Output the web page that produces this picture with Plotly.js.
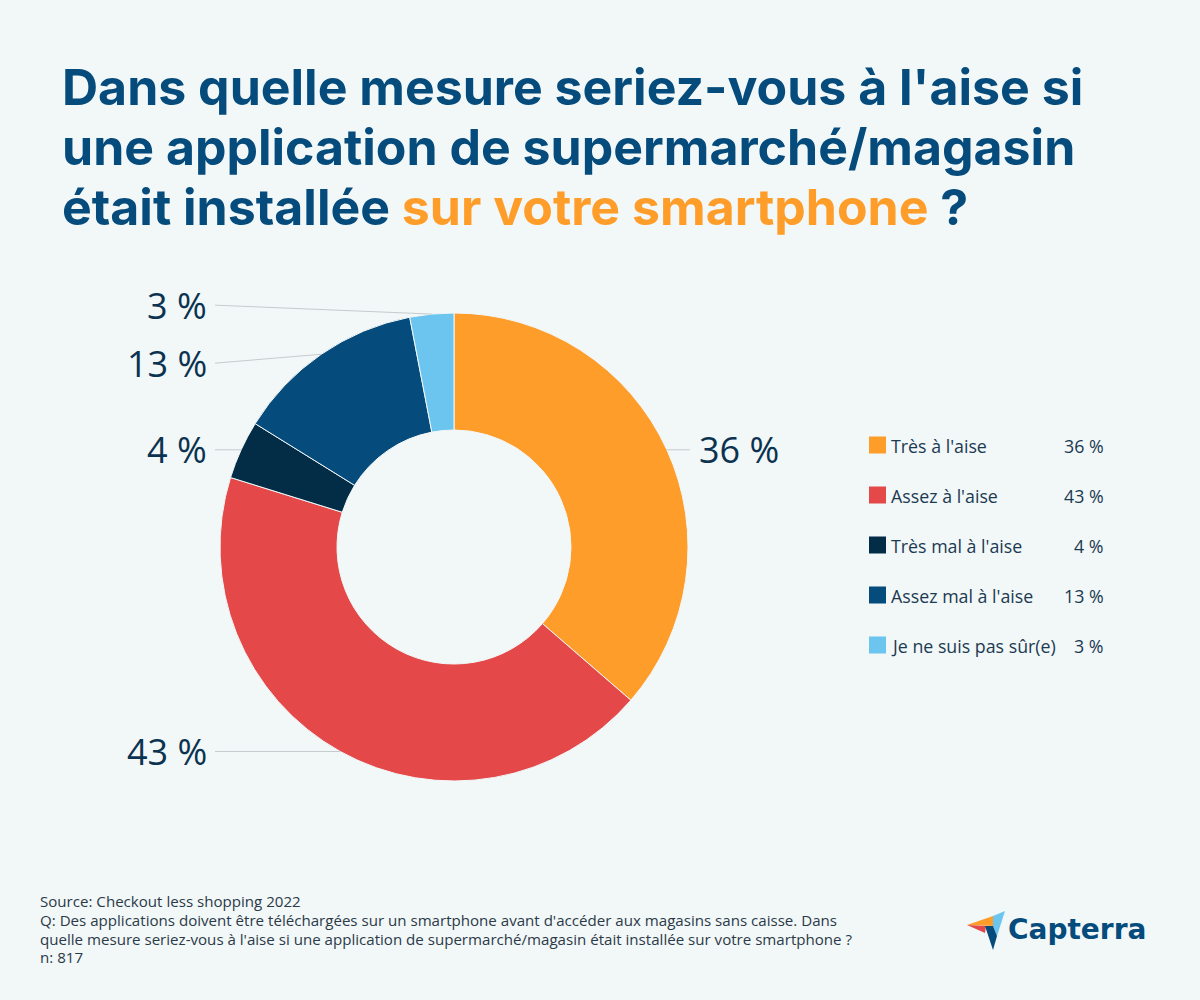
<!DOCTYPE html>
<html>
<head>
<meta charset="utf-8">
<script src="https://cdn.plot.ly/plotly-3.0.1.min.js"></script>
<style>
  html, body { margin: 0; padding: 0; background: #F2F7F8; }
  #chart { width: 1200px; height: 1000px; }
</style>
</head>
<body>
<div id="chart"></div>
<script>
// ---- Data ----
const categories = ["Très à l'aise", "Assez à l'aise", "Très mal à l'aise", "Assez mal à l'aise", "Je ne suis pas sûr(e)"];
const values = [36, 43, 4, 13, 3];
const colors = ["#FF9D2B", "#E44848", "#032D47", "#054B7C", "#6CC5EE"];
const pctLabels = values.map(v => v + " %");
const titleLines = [
  "Dans quelle mesure seriez-vous à l'aise si",
  "une application de supermarché/magasin",
  "était installée <span style='color:#FF9D2B'>sur votre smartphone</span> ?"
];
const footerLines = [
  "Source: Checkout less shopping 2022",
  "Q: Des applications doivent être téléchargées sur un smartphone avant d'accéder aux magasins sans caisse. Dans",
  "quelle mesure seriez-vous à l'aise si une application de supermarché/magasin était installée sur votre smartphone ?",
  "n: 817"
];

// ---- Layout constants (pixels) ----
const W = 1200, H = 1000;
const cx = 454, cy = 547, R = 234;
const px = x => x / W;
const py = y => 1 - y / H;

const bg = "#F2F7F8";
const titleColor = "#054B7C";
const labelColor = "#0B3350";
const legendColor = "#1B3A52";

const trace = {
  type: "pie",
  values: values,
  labels: categories,
  marker: { colors: colors, line: { color: "#F2F7F8", width: 1 } },
  sort: false,
  direction: "clockwise",
  rotation: 0,
  hole: 0.5,
  textinfo: "none",
  hoverinfo: "label+percent",
  showlegend: false,
  domain: { x: [px(cx - R), px(cx + R)], y: [py(cy + R), py(cy - R)] }
};

const annotations = [];
const shapes = [];

// multi-line text block: line pitch set by base size, glyphs by span size
function block(lines, glyphSize) {
  return lines.map(t => "<span style='font-size:" + glyphSize + "px'>" + t + "</span>").join("<br>");
}

// Title
const titleSize = 50, titlePitch = 60.2;
annotations.push({
  xref: "paper", yref: "paper", x: px(60), y: py(165 - 0.3635 * titleSize),
  xanchor: "left", yanchor: "middle", align: "left", showarrow: false,
  text: block(titleLines, titleSize),
  font: { family: "Inter", size: titlePitch / 1.3, color: titleColor, weight: 700 }
});

// Outside labels with leader lines, computed from the values
const total = values.reduce((a, b) => a + b, 0);
let cum = 0;
const pts = values.map((v, i) => {
  const mid = (cum + v / 2) / total * 2 * Math.PI;
  cum += v;
  const ex = cx + R * Math.sin(mid);
  const ey = cy - R * Math.cos(mid);
  return { i, ex, ey, ly: ey, right: Math.sin(mid) > 0 };
});
// simple de-overlap for each side
const minGap = 58;
[true, false].forEach(side => {
  const s = pts.filter(p => p.right === side).sort((a, b) => a.ly - b.ly);
  for (let k = 1; k < s.length; k++) {
    const gap = s[k].ly - s[k - 1].ly;
    if (gap < minGap) {
      const d = (minGap - gap) / 2;
      s[k - 1].ly -= d;
      s[k].ly += d;
    }
  }
});
pts.forEach(p => {
  const lx = p.right ? 690 : 215;
  shapes.push({
    type: "line", xref: "paper", yref: "paper",
    x0: px(p.ex), y0: py(p.ey), x1: px(lx), y1: py(p.ly),
    line: { color: "#C6CBCE", width: 1 }
  });
  annotations.push({
    xref: "paper", yref: "paper", x: px(p.right ? 697 : 209), y: py(p.ly),
    xanchor: p.right ? "left" : "right", yanchor: "middle", showarrow: false,
    text: pctLabels[p.i],
    font: { family: "Open Sans", size: 36, color: labelColor }
  });
});

// Legend (manual, two columns)
categories.forEach((c, i) => {
  const yc = 445 + i * 50;
  shapes.push({
    type: "rect", xref: "paper", yref: "paper",
    x0: px(869), x1: px(886), y0: py(yc - 8.5), y1: py(yc + 8.5),
    fillcolor: colors[i], line: { width: 0 }
  });
  annotations.push({
    xref: "paper", yref: "paper", x: px(889), y: py(yc + 1),
    xanchor: "left", yanchor: "middle", showarrow: false, text: c,
    font: { family: "Open Sans", size: 17.8, color: legendColor }
  });
  annotations.push({
    xref: "paper", yref: "paper", x: px(1106), y: py(yc + 1),
    xanchor: "right", yanchor: "middle", showarrow: false, text: pctLabels[i],
    font: { family: "Open Sans", size: 17.8, color: legendColor }
  });
});

// Footer
const footSize = 15.1, footPitch = 18.8;
annotations.push({
  xref: "paper", yref: "paper", x: px(38), y: py(935 - 0.388 * footSize),
  xanchor: "left", yanchor: "middle", align: "left", showarrow: false,
  text: block(footerLines, footSize),
  font: { family: "Open Sans", size: footPitch / 1.3, color: "#2B3A48" }
});

// Capterra logo
const poly = (p, col) => ({
  type: "path", xref: "paper", yref: "paper",
  path: "M " + p.map(q => px(q[0]) + "," + py(q[1])).join(" L ") + " Z",
  fillcolor: col, line: { width: 0 }
});
shapes.push(poly([[967, 925], [993, 916], [993, 926]], "#FF9D2B"));
shapes.push(poly([[967, 925], [986, 926], [985, 933]], "#E44848"));
shapes.push(poly([[993, 916], [1005, 911], [997, 936], [993, 926]], "#6CC5EE"));
shapes.push(poly([[985, 926], [993, 926], [997, 936], [993, 950]], "#054B7C"));
annotations.push({
  xref: "paper", yref: "paper", x: px(1006), y: py(929),
  xanchor: "left", yanchor: "middle", showarrow: false, text: "Capterra",
  font: { family: "DejaVu Sans", size: 28, color: "#054B7C", weight: 700 }
});

const layout = {
  width: W, height: H,
  margin: { l: 0, r: 0, t: 0, b: 0 },
  paper_bgcolor: bg, plot_bgcolor: bg,
  showlegend: false,
  annotations: annotations,
  shapes: shapes
};

Plotly.newPlot("chart", [trace], layout, { displayModeBar: false, staticPlot: true });
</script>
</body>
</html>
